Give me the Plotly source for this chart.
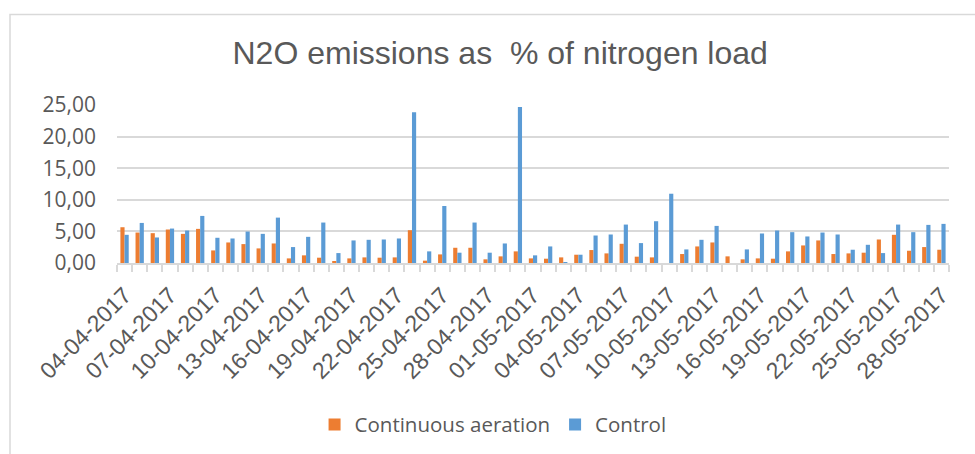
import pandas as pd
import plotly.graph_objects as go

dates = pd.date_range("2017-04-04", periods=55, freq="D")
continuous_aeration = [5.66, 4.82, 4.72, 5.30, 4.61, 5.40, 1.99, 3.25, 2.99, 2.31,
                       3.09, 0.73, 1.21, 0.84, 0.26, 0.73, 0.89, 0.84, 0.89, 5.19,
                       0.37, 1.36, 2.41, 2.41, 0.58, 1.05, 1.84, 0.73, 0.68, 0.89,
                       1.31, 2.05, 1.52, 3.04, 1.00, 0.89, 0.00, 1.42, 2.62, 3.25,
                       1.05, 0.58, 0.73, 0.68, 1.84, 2.78, 3.57, 1.42, 1.52, 1.63,
                       3.72, 4.46, 1.94, 2.52, 2.10]
control = [4.46, 6.34, 4.04, 5.45, 5.14, 7.45, 3.99, 3.88, 4.98, 4.61,
           7.18, 2.52, 4.14, 6.40, 1.57, 3.57, 3.67, 3.72, 3.88, 23.86,
           1.84, 9.02, 1.63, 6.40, 1.63, 3.09, 24.70, 1.21, 2.62, 0.10,
           1.31, 4.35, 4.51, 6.08, 3.15, 6.61, 10.96, 2.15, 3.67, 5.87,
           0.00, 2.15, 4.67, 5.14, 4.88, 4.20, 4.82, 4.51, 2.10, 2.88,
           1.57, 6.08, 4.88, 6.03, 6.19]
tick_dates = dates[::3]
tick_labels = [d.strftime("%d-%m-%Y") for d in tick_dates]
y_ticks = [0, 5, 10, 15, 20, 25]
y_tick_labels = ["0,00", "5,00", "10,00", "15,00", "20,00", "25,00"]

fig = go.Figure()
fig.add_trace(go.Bar(x=dates, y=continuous_aeration, name="Continuous aeration",
                     marker=dict(color="#ED7D31", line=dict(width=0))))
fig.add_trace(go.Bar(x=dates, y=control, name="Control",
                     marker=dict(color="#5B9BD5", line=dict(width=0))))

fig.update_layout(
    width=975, height=454,
    margin=dict(l=117, r=26, t=105, b=190),
    paper_bgcolor="white", plot_bgcolor="white",
    barmode="group", bargap=0.45, bargroupgap=0,
    title=dict(text="N2O emissions as \u00a0% of nitrogen load",
               font=dict(family="Liberation Sans, Arial", size=32, color="#595959"),
               xref="container", x=0.513, xanchor="center",
               yref="container", y=0.883, yanchor="middle"),
    legend=dict(orientation="h", xanchor="center", x=0.452, yanchor="middle", y=-1.01,
                font=dict(family="Open Sans", size=20.5, color="#595959"),
                itemwidth=30, tracegroupgap=0),
    xaxis=dict(
        type="date",
        range=["2017-04-03 12:00", "2017-05-28 12:00"],
        tickmode="array", tickvals=list(tick_dates), ticktext=tick_labels,
        tickangle=-45, ticks="",
        tickfont=dict(family="Liberation Sans, Arial", size=23, color="#595959"),
        showline=True, linecolor="#D9D9D9", linewidth=1.5,
        showgrid=False, zeroline=False,
        ticklabelstandoff=8,
        minor=dict(tickmode="linear", tick0="2017-04-03 12:00", dtick=86400000,
                   ticks="outside", ticklen=7, tickcolor="#D9D9D9", tickwidth=1.5,
                   showgrid=False),
    ),
    yaxis=dict(
        range=[0, 25], tickmode="array", tickvals=y_ticks, ticktext=y_tick_labels,
        tickfont=dict(family="Open Sans", size=21, color="#595959"),
        showgrid=True, gridcolor="#D9D9D9", gridwidth=1.5,
        zeroline=False, showline=False, ticks="",
        ticklabelstandoff=20,
    ),
    shapes=[dict(type="rect", xref="paper", yref="paper",
                 x0=(10 - 117) / 832, x1=(985 - 117) / 832,
                 y0=(263.7 - 470) / 158.7, y1=(263.7 - 14) / 158.7,
                 line=dict(color="#D9D9D9", width=1.5), fillcolor="rgba(0,0,0,0)",
                 layer="below")],
)

fig.write_html("out.html", config={"displayModeBar": False},
               post_script="document.body.style.margin='0';document.body.style.overflow='hidden';")
